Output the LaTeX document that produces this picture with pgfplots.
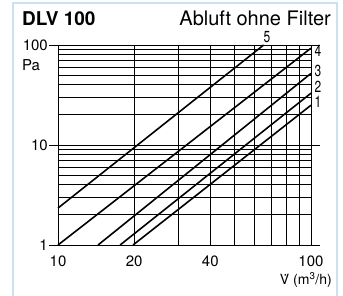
\documentclass[border=0pt]{standalone}
\usepackage{fontspec}
\setmainfont{TeX Gyre Heros}
\usepackage{pgfplots}
\pgfplotsset{compat=1.18}
\definecolor{borderblue}{RGB}{204,224,242}
\begin{document}
\begin{tikzpicture}[x=1pt,y=1pt]
\useasboundingbox (0,0) rectangle (343,296);
\draw[color=borderblue, line width=1.3pt] (13,-2) -- (13,293) -- (337,293) -- (337,-2);
\begin{axis}[
  at={(58pt,51pt)}, anchor=south west,
  scale only axis, width=253pt, height=200pt,
  xmode=log, ymode=log,
  xmin=10, xmax=100, ymin=1, ymax=100,
  xtick={10,20,40,100}, xticklabels={10,20,40,100},
  ytick={1,10,100}, yticklabels={1,10,100},
  minor xtick={20,30,40,50,60,70,80,90},
  minor ytick={2,3,4,5,6,7,8,9,20,30,40,50,60,70,80,90},
  grid=both,
  major grid style={black, line width=0.8pt},
  minor grid style={black, line width=0.8pt},
  axis line style={black, line width=0.9pt},
  tick align=outside,
  major tick length=9pt, minor tick length=0pt,
  xtick style={draw=none},
  ytick style={black, line width=0.8pt},
  /pgf/number format/assume math mode=true,
  ticklabel style={font=\fontsize{15}{15}\selectfont},
  yticklabel style={inner sep=1pt},
  xticklabel style={inner sep=2pt},
  clip=false,
]
\addplot[black, line width=1.6pt] coordinates {(10,2.34) (65,100)};
\addplot[black, line width=1.6pt] coordinates {(10,1) (100,93)};
\addplot[black, line width=1.6pt] coordinates {(14.4,1) (100,52)};
\addplot[black, line width=1.6pt] coordinates {(17.6,1) (100,33)};
\addplot[black, line width=1.6pt] coordinates {(19.8,1) (100,25)};
\end{axis}
\node[anchor=base west, font=\bfseries\fontsize{19}{19}\selectfont, inner sep=0pt] at (22,270) {DLV 100};
\node[anchor=base east, font=\fontsize{20}{20}\selectfont, inner sep=0pt] at (331,270) {Abluft ohne Filter};
\node[font=\fontsize{15}{15}\selectfont] at (31,231) {Pa};
\node[anchor=base east, font=\fontsize{14}{14}\selectfont, inner sep=0pt] at (332,11) {\.{V} (m\textsuperscript{3}/h)};
\begin{scope}[every node/.style={font=\fontsize{16}{16}\selectfont, inner sep=0pt, xscale=0.75}]
\node at (267,259) {5};
\node at (318,245) {4};
\node at (318,225) {3};
\node at (318,209.5) {2};
\node at (318,194) {1};
\end{scope}
\end{tikzpicture}
\end{document}
